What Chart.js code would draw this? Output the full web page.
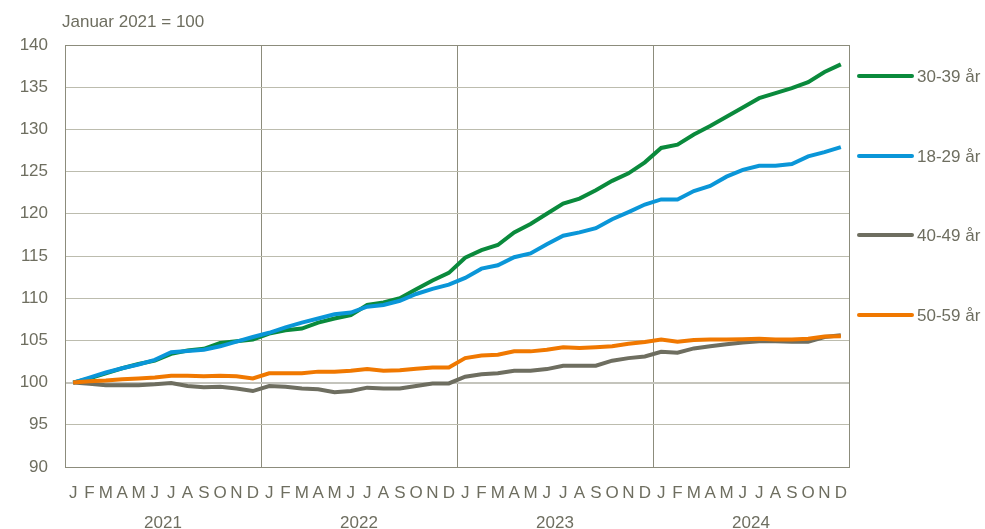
<!DOCTYPE html>
<html>
<head>
<meta charset="utf-8">
<script src="https://cdn.jsdelivr.net/npm/chart.js@4"></script>
<style>
  html, body { margin: 0; padding: 0; background: #fff; }
  #wrap { width: 985px; height: 529px; }
</style>
</head>
<body>
<div id="wrap"><canvas id="chart" width="985" height="529"></canvas></div>
<script>
const monthLetters = ['J', 'F', 'M', 'A', 'M', 'J', 'J', 'A', 'S', 'O', 'N', 'D'];
const years = ['2021', '2022', '2023', '2024'];
const yTicks = [90, 95, 100, 105, 110, 115, 120, 125, 130, 135, 140];
const subtitle = 'Januar 2021 = 100';

const seriesNames = ['30-39 år', '18-29 år', '40-49 år', '50-59 år'];

const age30to39 = [
  100, 100.5, 101.1, 101.7, 102.2, 102.6, 103.4, 103.8, 104.0, 104.7, 104.9, 105.1,
  105.8, 106.2, 106.4, 107.1, 107.6, 108.0, 109.2, 109.5, 110.0, 111.05, 112.1, 113.0,
  114.8, 115.7, 116.3, 117.8, 118.8, 120.0, 121.2, 121.8, 122.8, 123.9, 124.8, 126.1,
  127.8, 128.2, 129.4, 130.4, 131.5, 132.6, 133.7, 134.3, 134.9, 135.6, 136.8, 137.7
];
const age18to29 = [
  100, 100.6, 101.2, 101.7, 102.15, 102.7, 103.6, 103.75, 103.9, 104.3, 104.85, 105.4,
  105.9, 106.55, 107.1, 107.6, 108.1, 108.3, 109.0, 109.2, 109.7, 110.5, 111.1, 111.6,
  112.4, 113.5, 113.9, 114.85, 115.3, 116.4, 117.4, 117.8, 118.3, 119.35, 120.2, 121.1,
  121.7, 121.7, 122.7, 123.3, 124.4, 125.2, 125.7, 125.7, 125.9, 126.8, 127.3, 127.9
];
const age40to49 = [
  100, 99.85, 99.7, 99.7, 99.7, 99.8, 99.95, 99.6, 99.45, 99.5, 99.3, 99.0,
  99.6, 99.5, 99.3, 99.2, 98.85, 99.0, 99.4, 99.3, 99.3, 99.6, 99.9, 99.9,
  100.7, 101.0, 101.1, 101.4, 101.4, 101.6, 102.0, 102.0, 102.0, 102.6, 102.9, 103.1,
  103.65, 103.55, 104.05, 104.3, 104.55, 104.75, 104.9, 104.9, 104.85, 104.85, 105.4, 105.6
];
const age50to59 = [
  100, 100.15, 100.25, 100.4, 100.5, 100.6, 100.8, 100.8, 100.75, 100.8, 100.75, 100.5,
  101.1, 101.1, 101.1, 101.3, 101.3, 101.4, 101.6, 101.4, 101.45, 101.65, 101.8, 101.8,
  102.9, 103.2, 103.3, 103.7, 103.7, 103.9, 104.2, 104.1, 104.2, 104.3, 104.6, 104.8,
  105.1, 104.85, 105.05, 105.1, 105.1, 105.15, 105.2, 105.1, 105.1, 105.2, 105.45, 105.5
];

const colors = ['#0a8a3c', '#0a96d8', '#6e6e60', '#f07800'];
const textColor = '#6e6e60';
const fontFamily = '"Liberation Sans", Arial, sans-serif';

// one label per month, 4 years
const labels = [];
years.forEach(() => monthLetters.forEach(m => labels.push(m)));

// box round plot + subtitle + legend on the right
const extras = {
  id: 'extras',
  beforeDatasetsDraw(chart) {
    const { ctx, chartArea: a } = chart;
    ctx.save();
    ctx.strokeStyle = '#8c8c7c';
    ctx.lineWidth = 1;
    ctx.strokeRect(Math.round(a.left) + 0.5, Math.round(a.top) + 0.5,
      Math.round(a.right - a.left), Math.round(a.bottom - a.top));
    ctx.restore();
  },
  afterDraw(chart) {
    const { ctx } = chart;
    ctx.save();
    ctx.font = '17px ' + fontFamily;
    ctx.fillStyle = textColor;
    ctx.textBaseline = 'middle';
    ctx.fillText(subtitle, 62, 22);

    const legendY = [76, 156, 235, 315];
    chart.data.datasets.forEach((ds, i) => {
      const y = legendY[i];
      ctx.strokeStyle = ds.borderColor;
      ctx.lineWidth = 4;
      ctx.lineCap = 'round';
      ctx.beginPath();
      ctx.moveTo(859, y);
      ctx.lineTo(912, y);
      ctx.stroke();
      ctx.fillStyle = textColor;
      ctx.fillText(ds.label, 917, y + 1);
    });
    ctx.restore();
  }
};

const series = [age30to39, age18to29, age40to49, age50to59];

new Chart(document.getElementById('chart'), {
  type: 'line',
  data: {
    labels,
    datasets: series.map((data, i) => ({
      label: seriesNames[i],
      data,
      borderColor: colors[i],
      backgroundColor: colors[i],
      borderWidth: 4,
      pointRadius: 0,
      tension: 0,
      fill: false,
      order: [3, 2, 1, 0][i]
    }))
  },
  options: {
    responsive: false,
    animation: false,
    layout: { padding: { top: 45, right: 136, left: 0, bottom: 0 } },
    plugins: { legend: { display: false }, tooltip: { enabled: false } },
    scales: {
      x: {
        type: 'category',
        offset: true,
        weight: 0,
        grid: {
          offset: true,
          drawTicks: false,
          color: c => (c.index > 0 && c.index % 12 === 0) ? '#8c8c7c' : 'rgba(0,0,0,0)',
          lineWidth: 1
        },
        border: { display: false },
        ticks: {
          autoSkip: false,
          maxRotation: 0,
          padding: 16,
          color: textColor,
          font: { size: 17, family: fontFamily }
        },
        afterFit: s => { s.height = 38; }
      },
      x2: {
        type: 'category',
        labels: years,
        position: 'bottom',
        weight: 1,
        offset: true,
        grid: { display: false },
        border: { display: false },
        ticks: {
          padding: 0,
          maxRotation: 0,
          color: textColor,
          font: { size: 17, family: fontFamily }
        },
        afterFit: s => { s.height = 24; }
      },
      y: {
        min: yTicks[0],
        max: yTicks[yTicks.length - 1],
        afterBuildTicks: s => { s.ticks = yTicks.map(v => ({ value: v })); },
        grid: {
          drawTicks: false,
          color: c => c.tick && c.tick.value === 100 ? '#c4c4bc' : '#bcbcae',
          lineWidth: c => c.tick && c.tick.value === 100 ? 2 : 1
        },
        border: { display: false },
        ticks: {
          padding: 17,
          color: textColor,
          font: { size: 17, family: fontFamily }
        },
        afterFit: s => { s.width = 65; }
      }
    }
  },
  plugins: [extras]
});
</script>
</body>
</html>
